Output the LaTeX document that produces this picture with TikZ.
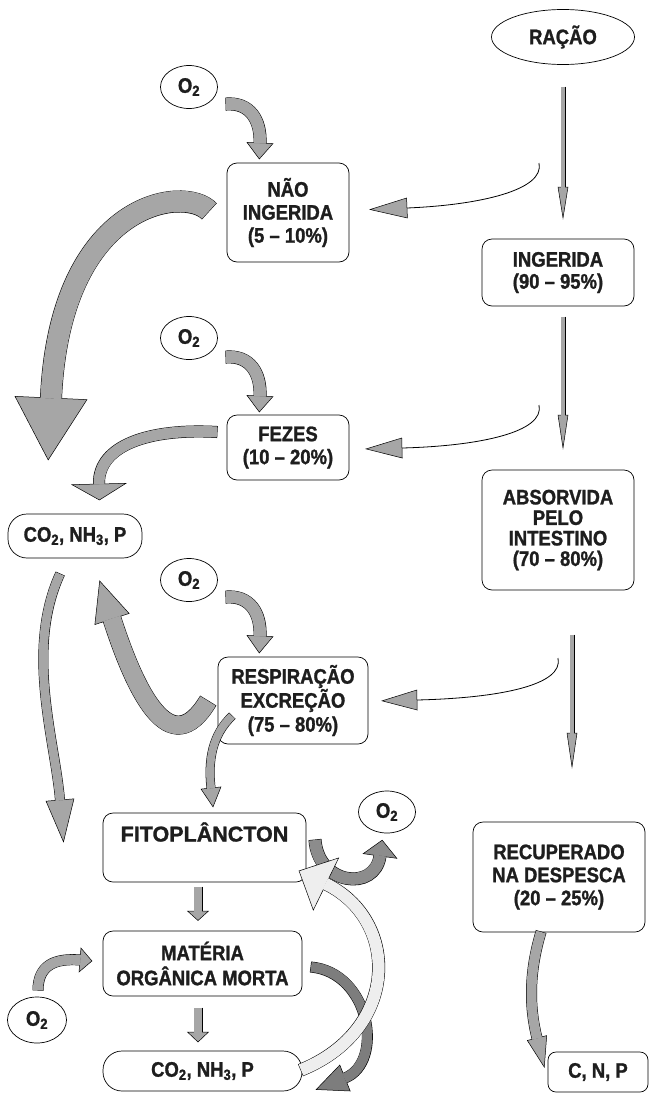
\documentclass[tikz,border=0pt]{standalone}
\usepackage{fontspec}
\setmainfont{Liberation Sans}[FakeStretch=0.88, BoldFeatures={FakeBold=1.2}]
\newfontfamily\widefont{Liberation Sans}[BoldFeatures={FakeBold=1.2}]
\usetikzlibrary{shapes.geometric,calc}
\definecolor{ag}{RGB}{166,166,166}
\definecolor{agd}{RGB}{125,125,125}
\definecolor{agm}{RGB}{140,140,140}
\definecolor{agl}{RGB}{238,238,238}
\definecolor{ink}{RGB}{30,30,30}
% #1 fill, #2 band width, #3 start, #4 c1, #5 c2, #6 head base, #7 head length, #8 head half width
\newcommand\blockarrow[8]{%
 \draw[line width=#2+1, black, shorten <=-0.5pt] #3 .. controls #4 and #5 .. #6;
 \draw[fill=#1, line width=0.5pt] ($#6!-#7pt!#5$) -- ($#6!#8pt!90:#5$) -- ($#6!#8pt!-90:#5$) -- cycle;
 \draw[line width=#2, #1, shorten >=-0.6pt] #3 .. controls #4 and #5 .. #6;
}
% thin line arrow with grey head
\newcommand\linearrow[6]{%
 \draw[line width=0.8pt] #1 .. controls #2 and #3 .. #4;
 \draw[fill=ag, line width=0.5pt] ($#4!-#5pt!#3$) -- ($#4!#6pt!90:#3$) -- ($#4!#6pt!-90:#3$) -- cycle;
}
\begin{document}
\begin{tikzpicture}[x=1pt,y=-1pt,
  every node/.style={font=\bfseries\fontsize{21}{23}\selectfont, text=ink},
  box/.style={draw, fill=white, line width=0.7pt, rounded corners=10pt, align=center, inner sep=0pt},
  oval/.style={draw, fill=white, ellipse, line width=0.7pt, inner sep=0pt},
  pill/.style={draw, fill=white, rounded corners=19pt, line width=0.7pt, inner sep=0pt},
  o2/.style={oval, minimum width=57, minimum height=43}]
\useasboundingbox (0,0) rectangle (651,1095);

% nodes
\node[oval, minimum width=143, minimum height=55] (racao) at (563,37) {RAÇÃO};
\node[o2] (o2a) at (189,87) {O\textsubscript{2}};
\node[box, minimum width=122, minimum height=99] (nao) at (288,212.5) {NÃO\\INGERIDA\\(5 – 10\%)};
\node[box, minimum width=152, minimum height=67, font=\bfseries\fontsize{21}{22}\selectfont] (ing) at (558,272.5) {INGERIDA\\(90 – 95\%)};
\node[o2] (o2b) at (189,338) {O\textsubscript{2}};
\node[box, minimum width=122, minimum height=65] (fez) at (288,447.5) {FEZES\\(10 – 20\%)};
\node[box, minimum width=152, minimum height=120, font=\bfseries\fontsize{21}{20.5}\selectfont] (abs) at (558,530) {ABSORVIDA\\PELO\\INTESTINO\\(70 – 80\%)};
\node[pill, minimum width=134, minimum height=44] (co2a) at (75,536) {CO\textsubscript{2}, NH\textsubscript{3}, P};
\node[o2] (o2c) at (189,580) {O\textsubscript{2}};
\node[box, minimum width=150, minimum height=87, font=\bfseries\fontsize{21}{24}\selectfont] (resp) at (293,700.5) {RESPIRAÇÃO\\EXCREÇÃO\\(75 – 80\%)};
\node[box, minimum width=203, minimum height=69, font=\widefont\bfseries\fontsize{21.5}{24}\selectfont] (fito) at (204.5,847.5) {FITOPLÂNCTON\\\strut};
\node[o2, minimum height=42] (o2e) at (387,812) {O\textsubscript{2}};
\node[box, minimum width=172, minimum height=110] (rec) at (559,877) {RECUPERADO\\NA DESPESCA\\(20 – 25\%)};
\node[box, minimum width=199, minimum height=65, font=\bfseries\fontsize{21}{25}\selectfont] (mat) at (202.5,963.5) {MATÉRIA\\ORGÂNICA MORTA};
\node[o2, minimum width=59, minimum height=46] (o2d) at (37,1020) {O\textsubscript{2}};
\node[pill, minimum width=199, minimum height=40] (co2b) at (202.5,1071) {CO\textsubscript{2}, NH\textsubscript{3}, P};
\node[box, rounded corners=8pt, minimum width=100, minimum height=40] (cnp) at (598,1072) {C, N, P};

% straight main-line arrows
\blockarrow{ag}{4}{(563,87)}{(563,120)}{(563,150)}{(563,187)}{31}{5}
\blockarrow{ag}{4}{(563,317)}{(563,350)}{(563,380)}{(563,415)}{33}{5}
\blockarrow{ag}{4}{(572,635)}{(572,670)}{(572,700)}{(572,733)}{34}{5}

% thin curved arrows to the left
\linearrow{(539,163)}{(545,190)}{(480,205)}{(407,208)}{37}{10}
\linearrow{(539,405)}{(545,432)}{(480,446)}{(402,448)}{36}{10}
\linearrow{(558,658)}{(564,685)}{(500,698)}{(417,700)}{35}{10}

% O2 arrows
\blockarrow{ag}{12}{(226,104)}{(250,102)}{(261,120)}{(260,143)}{16}{13}
\blockarrow{ag}{12}{(226,357)}{(250,355)}{(261,373)}{(260,396)}{16}{13}
\blockarrow{ag}{12}{(226,597)}{(250,595)}{(261,613)}{(260,636)}{17}{13}
\blockarrow{ag}{10}{(38,990)}{(38,965)}{(55,958)}{(80,960)}{12}{12}

% big arrows on the left
\blockarrow{ag}{21}{(209,211)}{(185,185)}{(60,200)}{(51,398)}{62}{36}
\blockarrow{ag}{11}{(217,432)}{(150,428)}{(98,445)}{(99,484)}{16}{27}
\blockarrow{ag}{18}{(208,701)}{(170,765)}{(135,690)}{(112,619)}{40}{18}
\blockarrow{ag}{9}{(60,574)}{(25,650)}{(55,740)}{(60,800)}{42}{14}
\blockarrow{ag}{8}{(232,716)}{(212,735)}{(208,760)}{(211,788)}{19}{10}

% lower column
\blockarrow{ag}{8}{(198,887)}{(198,895)}{(198,903)}{(198,911)}{9.5}{10.5}
\blockarrow{ag}{8}{(198,1008)}{(198,1016)}{(198,1024)}{(198,1032)}{10}{10.5}

% cycle around fitoplancton
\blockarrow{agm}{12}{(315,840)}{(318,885)}{(375,892)}{(380,856)}{16}{17}
\blockarrow{agd}{10}{(311,967)}{(370,972)}{(385,1062)}{(345,1078)}{31}{14}
\blockarrow{agl}{12}{(301,1070)}{(400,1030)}{(400,920)}{(326,884)}{30}{29}

% recuperado
\blockarrow{ag}{10}{(541,932)}{(528,975)}{(530,1010)}{(537,1038)}{30}{10}
\end{tikzpicture}
\end{document}
